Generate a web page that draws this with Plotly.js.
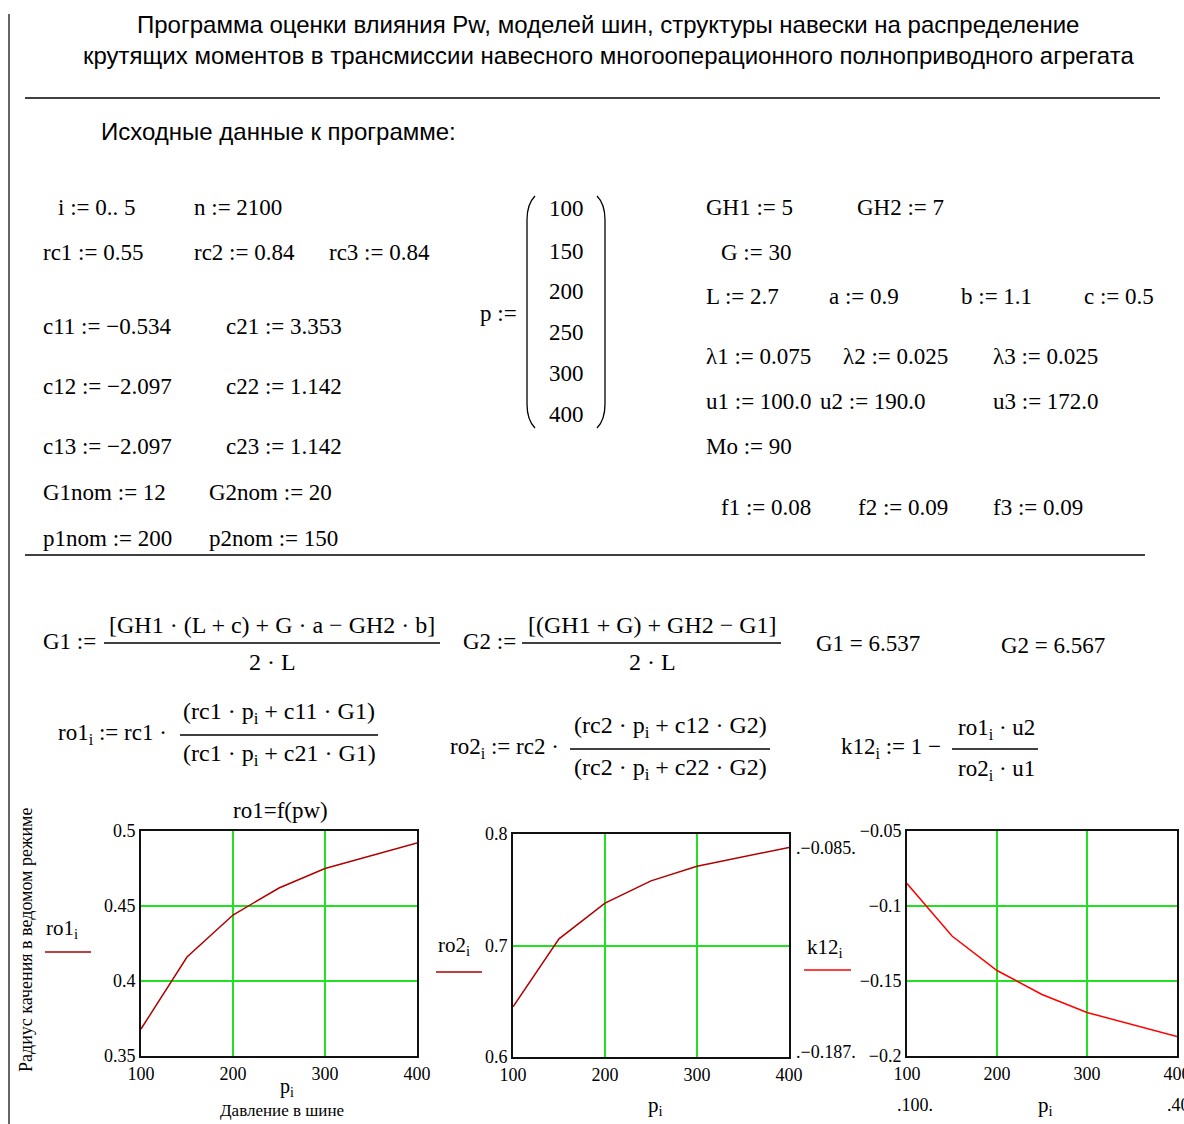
<!DOCTYPE html>
<html>
<head>
<meta charset="utf-8">
<script src="https://cdn.plot.ly/plotly-3.0.1.min.js"></script>
<style>
html,body{margin:0;padding:0;background:#fff;}
#chart{width:1184px;height:1124px;}
</style>
</head>
<body>
<div id="chart"></div>
<script>
// ---- data ----
const p = [100, 150, 200, 250, 300, 400];
const ro1 = [0.368, 0.416, 0.444, 0.462, 0.475, 0.492];
const ro2 = [0.645, 0.706, 0.738, 0.758, 0.771, 0.788];
const k12 = [-0.085, -0.120, -0.143, -0.159, -0.171, -0.187];

const xTicks = [100, 200, 300, 400];
const ro1Ticks = [0.35, 0.4, 0.45, 0.5];
const ro2Ticks = [0.6, 0.7, 0.8];
const k12Ticks = [-0.2, -0.15, -0.1, -0.05];

const ro1Range = [0.35, 0.5];
const ro2Range = [0.6, 0.8];
const k12Range = [-0.2, -0.05];
const pRange = [100, 400];

// ---- layout helpers ----
const W = 1184, H = 1124;
const X = v => v / W;
const Y = v => 1 - v / H;
const SERIF = '"Liberation Serif", "Times New Roman", serif';
const SANS = '"Liberation Sans", Arial, sans-serif';
const FS = 23;   // body math text size
const FF = 24;   // fraction text size

const annotations = [];
const shapes = [];

function txt(x, y, text, o) {
  o = o || {};
  annotations.push({
    xref: 'paper', yref: 'paper', x: X(x), y: Y(y), text: text,
    showarrow: false, xanchor: o.anchor || 'left', yanchor: 'middle',
    textangle: o.angle || 0, borderpad: 0,
    font: {family: o.family || SERIF, size: o.size || FS, color: '#000'}
  });
}
function hline(x0, x1, y, color, width) {
  shapes.push({type: 'line', xref: 'paper', yref: 'paper',
    x0: X(x0), x1: X(x1), y0: Y(y), y1: Y(y),
    line: {color: color || '#000', width: width || 1}});
}
function vline(x, y0, y1, color, width) {
  shapes.push({type: 'line', xref: 'paper', yref: 'paper',
    x0: X(x), x1: X(x), y0: Y(y0), y1: Y(y1),
    line: {color: color || '#000', width: width || 1}});
}
function paren(xEdge, xMid, y0, y1, color) {
  const d = 'M' + X(xEdge) + ',' + Y(y0) +
    ' Q' + X(xMid) + ',' + Y(y0 + 8) + ' ' + X(xMid) + ',' + Y(y0 + 24) +
    ' L' + X(xMid) + ',' + Y(y1 - 24) +
    ' Q' + X(xMid) + ',' + Y(y1 - 8) + ' ' + X(xEdge) + ',' + Y(y1);
  shapes.push({type: 'path', xref: 'paper', yref: 'paper', path: d,
    line: {color: color || '#000', width: 1.3}});
}

// ---- page frame and rules ----
vline(9, 14, 1124, '#333', 1.5);
hline(25, 1160, 98, '#000', 1.5);
hline(25, 1145, 555, '#000', 1.5);

// ---- header ----
txt(608, 24, 'Программа оценки влияния Pw, моделей шин, структуры навески на распределение', {anchor: 'center', family: SANS, size: 24});
txt(608, 56, 'крутящих моментов в трансмиссии навесного многооперационного полноприводного агрегата', {anchor: 'center', family: SANS, size: 24});
txt(100, 132, 'Исходные данные к программе:', {family: SANS, size: 24});

// ---- input data block (left) ----
txt(57, 208, 'i := 0.. 5');
txt(193, 208, 'n := 2100');
txt(42, 253, 'rc1 := 0.55');
txt(193, 253, 'rc2 := 0.84');
txt(328, 253, 'rc3 := 0.84');
txt(42, 326, 'c11 := −0.534');
txt(225, 326, 'c21 := 3.353');
txt(42, 386, 'c12 := −2.097');
txt(225, 386, 'c22 := 1.142');
txt(42, 446, 'c13 := −2.097');
txt(225, 446, 'c23 := 1.142');
txt(42, 492, 'G1nom := 12');
txt(208, 492, 'G2nom := 20');
txt(42, 538, 'p1nom := 200');
txt(208, 538, 'p2nom := 150');

// ---- p vector ----
txt(479, 313, 'p :=');
const pRowsY = [209, 251, 291, 332, 373, 414];
p.forEach((v, k) => txt(566, pRowsY[k], String(v), {anchor: 'center'}));
paren(535, 527, 196, 428);
paren(597, 605, 196, 428);

// ---- input data block (right) ----
txt(705, 208, 'GH1 := 5');
txt(856, 208, 'GH2 := 7');
txt(720, 253, 'G := 30');
txt(705, 297, 'L := 2.7');
txt(828, 297, 'a := 0.9');
txt(960, 297, 'b := 1.1');
txt(1083, 297, 'c := 0.5');
txt(705, 356, 'λ1 := 0.075');
txt(842, 356, 'λ2 := 0.025');
txt(992, 356, 'λ3 := 0.025');
txt(705, 401, 'u1 := 100.0');
txt(819, 401, 'u2 := 190.0');
txt(992, 401, 'u3 := 172.0');
txt(705, 446, 'Mo := 90');
txt(720, 507, 'f1 := 0.08');
txt(857, 507, 'f2 := 0.09');
txt(992, 507, 'f3 := 0.09');

// ---- formulas ----
txt(42, 641, 'G1 :=');
txt(272, 625, '[GH1 · (L + c) + G · a − GH2 · b]', {anchor: 'center', size: FF});
hline(104, 440, 643, '#000', 1.3);
txt(272, 662, '2 · L', {anchor: 'center', size: FF});

txt(462, 641, 'G2 :=');
txt(652, 625, '[(GH1 + G) + GH2 − G1]', {anchor: 'center', size: FF});
hline(522, 781, 643, '#000', 1.3);
txt(652, 662, '2 · L', {anchor: 'center', size: FF});

txt(815, 643, 'G1 = 6.537');
txt(1000, 645, 'G2 = 6.567');

txt(57, 734, 'ro1<sub>i</sub> := rc1 ·');
txt(279, 713, '(rc1 · p<sub>i</sub> + c11 · G1)', {anchor: 'center', size: FF});
hline(180, 378, 735, '#000', 1.3);
txt(279, 755, '(rc1 · p<sub>i</sub> + c21 · G1)', {anchor: 'center', size: FF});

txt(449, 748, 'ro2<sub>i</sub> := rc2 ·');
txt(670, 727, '(rc2 · p<sub>i</sub> + c12 · G2)', {anchor: 'center', size: FF});
hline(570, 770, 749, '#000', 1.3);
txt(670, 769, '(rc2 · p<sub>i</sub> + c22 · G2)', {anchor: 'center', size: FF});

txt(840, 748, 'k12<sub>i</sub> := 1 −');
txt(996, 729, 'ro1<sub>i</sub> · u2', {anchor: 'center'});
hline(952, 1038, 749, '#000', 1.3);
txt(996, 770, 'ro2<sub>i</sub> · u1', {anchor: 'center'});

// ---- chart decorations ----
txt(280, 810, 'ro1=f(pw)', {anchor: 'center', size: 23});
txt(26, 940, 'Радиус качения в ведомом режиме', {anchor: 'center', size: 18, angle: -90});
txt(45, 929, 'ro1<sub>i</sub>', {size: 21});
hline(45, 91, 952, '#b00000', 1.5);
txt(287, 1087, 'p<sub>i</sub>', {anchor: 'center', size: 20});
txt(282, 1110, 'Давление в шине', {anchor: 'center', size: 17});

txt(437, 946, 'ro2<sub>i</sub>', {size: 21});
hline(436, 482, 972, '#b00000', 1.5);
txt(655, 1106, 'p<sub>i</sub>', {anchor: 'center', size: 21});
txt(795, 848, '.−0.085.', {size: 18});
txt(795, 1052, '.−0.187.', {size: 18});

txt(806, 948, 'k12<sub>i</sub>', {size: 21});
hline(804, 851, 970, '#ff0000', 1.5);
txt(1045, 1106, 'p<sub>i</sub>', {anchor: 'center', size: 21});
txt(896, 1105, '.100.', {size: 18});
txt(1166, 1105, '.400', {size: 18});

// ---- charts ----
const GRID = '#22e022';
function xAxis(x0, x1, anchor) {
  return {domain: [X(x0), X(x1)], range: pRange, tickvals: xTicks, anchor: anchor,
    showgrid: true, gridcolor: GRID, gridwidth: 2, zeroline: false,
    showline: true, mirror: true, linecolor: '#111', linewidth: 2,
    ticks: '', ticklen: 0, fixedrange: true, ticklabeloverflow: 'allow',
    tickfont: {family: SERIF, size: 18, color: '#000'}};
}
function yAxis(y0, y1, range, tv, anchor) {
  return {domain: [Y(y1), Y(y0)], range: range, tickvals: tv, anchor: anchor,
    showgrid: true, gridcolor: GRID, gridwidth: 2, zeroline: false,
    showline: true, mirror: true, linecolor: '#111', linewidth: 2,
    ticks: '', ticklen: 0, fixedrange: true, ticklabeloverflow: 'allow',
    tickfont: {family: SERIF, size: 18, color: '#000'}};
}

const traces = [
  {x: p, y: ro1, xaxis: 'x', yaxis: 'y', mode: 'lines', line: {color: '#b00000', width: 1.5}, showlegend: false},
  {x: p, y: ro2, xaxis: 'x2', yaxis: 'y2', mode: 'lines', line: {color: '#b00000', width: 1.5}, showlegend: false},
  {x: p, y: k12, xaxis: 'x3', yaxis: 'y3', mode: 'lines', line: {color: '#ff0000', width: 1.5}, showlegend: false}
];

const layout = {
  width: W, height: H,
  margin: {l: 0, r: 0, t: 0, b: 0},
  paper_bgcolor: '#ffffff', plot_bgcolor: '#ffffff',
  showlegend: false,
  xaxis: xAxis(141, 417, 'y'),
  yaxis: yAxis(831, 1056, ro1Range, ro1Ticks, 'x'),
  xaxis2: xAxis(513, 789, 'y2'),
  yaxis2: yAxis(834, 1057, ro2Range, ro2Ticks, 'x2'),
  xaxis3: xAxis(907, 1177, 'y3'),
  yaxis3: yAxis(831, 1056, k12Range, k12Ticks, 'x3'),
  annotations: annotations,
  shapes: shapes
};

Plotly.newPlot('chart', traces, layout, {staticPlot: true, displayModeBar: false});
</script>
</body>
</html>
